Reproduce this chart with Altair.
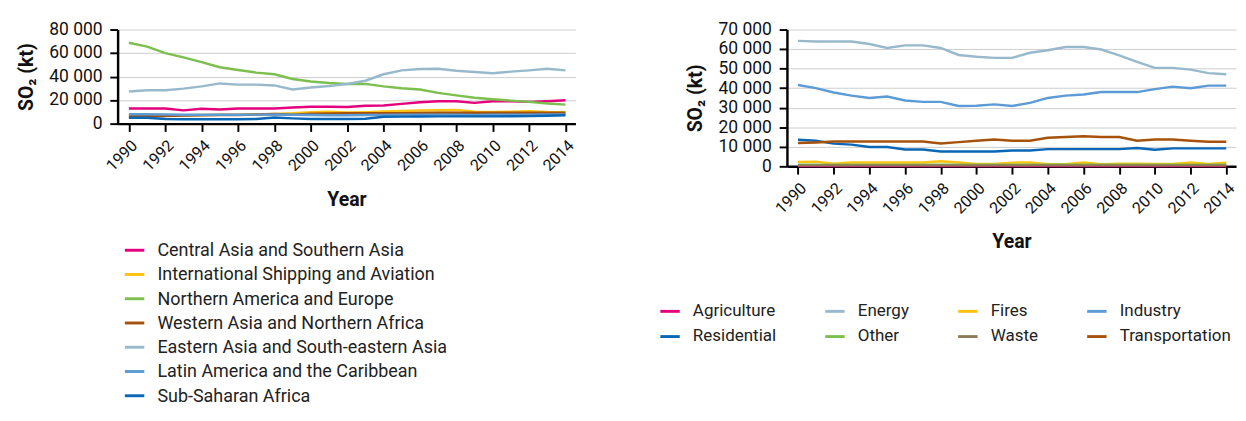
import altair as alt
import pandas as pd

years = list(range(1990, 2015))

# ---- Left chart: SO2 emissions by region (kt) ----
region_names = [
    "Central Asia and Southern Asia",
    "International Shipping and Aviation",
    "Northern America and Europe",
    "Western Asia and Northern Africa",
    "Eastern Asia and South-eastern Asia",
    "Latin America and the Caribbean",
    "Sub-Saharan Africa",
]
region_colors = ["#E5007D", "#FFC20E", "#7CBF4E", "#A5520C", "#98B9CC", "#5C9BD6", "#0A67B5"]

central_southern_asia = [12900, 12900, 12900, 11300, 12600, 12100, 12900, 12900, 12900, 13800, 14300, 14300, 14100,
                         15200, 15400, 16800, 18200, 19100, 19100, 17700, 19100, 19100, 18500, 19100, 19900]
intl_shipping_aviation = [6800, 6900, 7000, 7200, 7400, 7500, 7700, 7900, 8200, 8800, 9800, 10200, 9600,
                          9800, 10300, 10800, 11200, 11400, 11600, 10200, 10000, 10100, 10600, 10000, 9800]
northern_america_europe = [68800, 65500, 60000, 56400, 52300, 48000, 45600, 43400, 42000, 38000, 35900, 34500, 33700,
                           33800, 31700, 30100, 29000, 26200, 24000, 22000, 20700, 19600, 18500, 17100, 16200]
western_asia_n_africa = [6300, 6300, 6500, 7000, 7200, 7300, 7400, 7800, 8200, 7600, 8500, 8700, 8800,
                         8800, 8800, 8900, 9000, 9200, 9300, 9300, 9300, 9300, 9300, 9300, 9300]
eastern_se_asia = [27400, 28400, 28400, 29800, 31700, 34200, 33200, 33200, 32500, 29000, 30700, 32000, 33700,
                   36500, 42000, 45300, 46400, 46700, 45000, 43900, 42800, 44200, 45300, 46700, 45300]
latin_america_caribbean = [8000, 8000, 7800, 7500, 7500, 7600, 7600, 7700, 7800, 7500, 7300, 7200, 7200,
                           7300, 7400, 7500, 7600, 7700, 7600, 7400, 7600, 7700, 7700, 7800, 7900]
sub_saharan_africa = [5000, 5000, 4000, 3800, 3800, 3800, 3800, 3900, 5300, 4500, 4000, 4000, 4000,
                      4200, 5800, 6000, 6100, 6200, 6200, 6200, 6200, 6300, 6400, 6700, 7200]

region_series = [central_southern_asia, intl_shipping_aviation, northern_america_europe, western_asia_n_africa,
                 eastern_se_asia, latin_america_caribbean, sub_saharan_africa]

# ---- Right chart: SO2 emissions by sector (kt) ----
sector_names = ["Agriculture", "Energy", "Fires", "Industry", "Residential", "Other", "Waste", "Transportation"]
sector_colors = ["#E5007D", "#98B9CC", "#FFC20E", "#5C9BD6", "#0A67B5", "#7CBF4E", "#8C7B55", "#A5520C"]

agriculture = [200, 200, 200, 200, 200, 200, 200, 200, 200, 200, 200, 200, 200,
               200, 200, 200, 200, 200, 200, 200, 200, 200, 200, 200, 200]
energy = [64200, 63900, 63900, 63900, 62600, 60600, 61900, 61900, 60600, 57000, 56100, 55500, 55500,
          58100, 59400, 61100, 61100, 59800, 56800, 53500, 50400, 50400, 49500, 47700, 47100]
fires = [2300, 2400, 1300, 2000, 2000, 2000, 2000, 2000, 2600, 2000, 1200, 1200, 1900,
         2000, 1100, 1100, 2000, 1100, 1300, 1300, 1200, 1200, 2000, 1200, 1800]
industry = [41600, 40000, 37800, 36200, 35000, 35700, 33700, 33000, 33000, 30900, 31000, 31700, 30900,
            32500, 35000, 36200, 36800, 38000, 38000, 38000, 39500, 40800, 40000, 41300, 41300]
residential = [13600, 13100, 11600, 11100, 9900, 9900, 8600, 8600, 7600, 7600, 7600, 7600, 8100,
               8100, 8800, 8800, 8800, 8800, 8800, 9400, 8500, 9200, 9200, 9200, 9200]
other = [800, 800, 800, 800, 800, 800, 800, 800, 800, 800, 800, 800, 800,
         800, 800, 800, 800, 800, 800, 800, 800, 800, 800, 800, 800]
waste = [500, 500, 500, 500, 500, 500, 500, 500, 500, 500, 500, 500, 500,
         500, 500, 500, 500, 500, 500, 500, 500, 500, 500, 500, 500]
transportation = [11900, 12200, 12700, 12700, 12700, 12700, 12700, 12700, 11700, 12400, 13100, 13700, 13100,
                  13100, 14600, 15000, 15400, 15000, 15000, 13100, 13700, 13700, 13100, 12600, 12600]

sector_series = [agriculture, energy, fires, industry, residential, other, waste, transportation]

year_ticks = list(range(1990, 2015, 2))

left_df = pd.DataFrame(
    [{"Year": y, "Region": n, "SO2": v} for n, s in zip(region_names, region_series) for y, v in zip(years, s)]
)
right_df = pd.DataFrame(
    [{"Year": y, "Sector": n, "SO2": v} for n, s in zip(sector_names, sector_series) for y, v in zip(years, s)]
)

FONT = "Roboto"
label_expr = "replace(format(datum.value, ','), ',', ' ')"

x_axis = alt.Axis(values=year_ticks, format="d", labelAngle=-45, title="Year", grid=False, labelOverlap=False)
x_scale = alt.Scale(domain=[1989.38, 2014.55], nice=False, zero=False)

left = alt.Chart(left_df).mark_line(strokeWidth=2.5).encode(
    x=alt.X("Year:Q", scale=x_scale, axis=x_axis),
    y=alt.Y("SO2:Q", scale=alt.Scale(domain=[0, 80000], nice=False),
            axis=alt.Axis(values=[0, 20000, 40000, 60000, 80000], labelExpr=label_expr, title="SO₂ (kt)")),
    color=alt.Color("Region:N", sort=region_names,
                    scale=alt.Scale(domain=region_names, range=region_colors),
                    legend=alt.Legend(title=None, orient="none", legendX=6, legendY=216,
                                      direction="vertical", columns=1, rowPadding=4, labelFontSize=18.5)),
    detail="Region:N",
).properties(width=472, height=97)

right = alt.Chart(right_df).mark_line(strokeWidth=2.5).encode(
    x=alt.X("Year:Q", scale=x_scale, axis=x_axis),
    y=alt.Y("SO2:Q", scale=alt.Scale(domain=[0, 70000], nice=False),
            axis=alt.Axis(values=[0, 10000, 20000, 30000, 40000, 50000, 60000, 70000],
                          labelExpr=label_expr, title="SO₂ (kt)")),
    color=alt.Color("Sector:N", sort=sector_names,
                    scale=alt.Scale(domain=sector_names, range=sector_colors),
                    legend=alt.Legend(title=None, orient="none", legendX=-132, legendY=279,
                                      direction="horizontal", columns=4, rowPadding=6, columnPadding=44,
                                      labelFontSize=17.5)),
).properties(width=463, height=141)

chart = alt.hconcat(left, right, spacing=84).resolve_scale(color="independent").properties(
    padding={"left": 8, "top": 7, "right": 0, "bottom": 0}
).configure(
    font=FONT,
).configure_view(stroke=None).configure_axis(
    labelFont=FONT, titleFont=FONT, labelColor="#111111", titleColor="#111111",
    labelFontSize=16, titleFontSize=20, titleFontWeight="bold",
    domainColor="#000000", domainWidth=2.5, tickColor="#000000", tickWidth=2, tickSize=8,
    gridColor="#cccccc", gridWidth=1, labelPadding=6,
).configure_axisY(
    labelFontSize=18, titlePadding=13, labelPadding=8,
).configure_axisX(
    labelFontSize=16.5, titlePadding=16,
).configure_legend(
    labelFont=FONT, labelColor="#222222", symbolType="stroke", labelLimit=0,
    symbolSize=400, symbolStrokeWidth=3, labelOffset=12, padding=0,
)

chart.save("out.html", embed_options={"renderer": "svg", "actions": False})
